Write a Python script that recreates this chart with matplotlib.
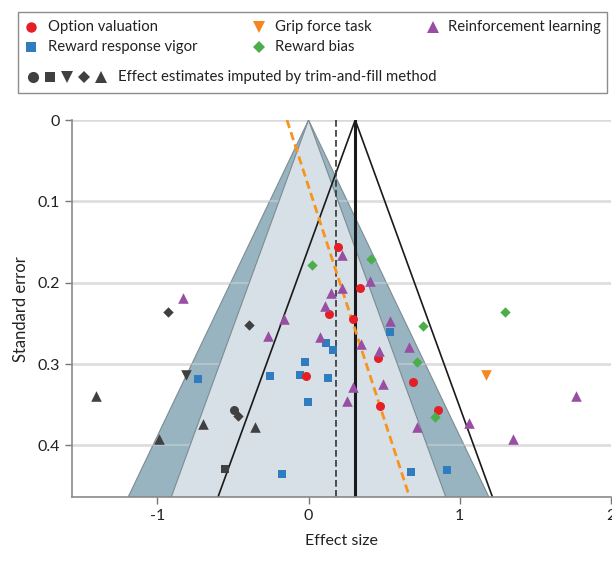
import matplotlib
matplotlib.use("Agg")
import matplotlib.pyplot as plt
from matplotlib.lines import Line2D
from matplotlib.patches import Rectangle, Polygon

plt.rcParams['font.family'] = ['Lato', 'DejaVu Sans']

# Effect sizes (x) and standard errors (y) per task category
option_es = [0.192, 0.133, -0.017, 0.338, 0.296, 0.462, 0.693, 0.470, 0.857]
option_se = [0.156, 0.239, 0.3145, 0.206, 0.244, 0.293, 0.3215, 0.351, 0.356]

vigor_es = [-0.732, -0.256, -0.055, -0.022, 0.117, 0.164, 0.128, -0.004,
            -0.174, 0.678, 0.916, 0.541]
vigor_se = [0.3186, 0.314, 0.313, 0.298, 0.274, 0.283, 0.3166, 0.346,
            0.4345, 0.433, 0.4296, 0.260]

grip_es = [1.175]
grip_se = [0.3133]

bias_es = [0.0245, 0.415, 0.760, 0.720, 0.835, 1.298]
bias_se = [0.178, 0.171, 0.2527, 0.298, 0.3645, 0.2363]

rl_es = [-0.828, -0.269, -0.163, 0.073, 0.111, 0.150, 0.223, 0.219, 0.407,
         0.536, 0.347, 0.464, 0.667, 0.294, 0.493, 0.254, 0.720, 1.064,
         1.773, 1.354]
rl_se = [0.219, 0.266, 0.244, 0.2666, 0.2285, 0.213, 0.207, 0.1655, 0.198,
         0.2465, 0.2756, 0.2834, 0.2793, 0.3276, 0.3243, 0.3448, 0.3768,
         0.3718, 0.3387, 0.3923]

# Studies imputed by trim-and-fill, by category marker
imp_option_es, imp_option_se = [-0.494], [0.356]
imp_vigor_es, imp_vigor_se = [-0.552], [0.429]
imp_grip_es, imp_grip_se = [-0.808], [0.313]
imp_bias_es, imp_bias_se = [-0.931, -0.393, -0.466], [0.236, 0.252, 0.364]
imp_rl_es, imp_rl_se = [-1.408, -0.699, -0.353, -0.989], [0.339, 0.373, 0.377, 0.392]

pooled_estimate = 0.309      # random-effects pooled effect
trimfill_estimate = 0.183    # trim-and-fill adjusted effect
egger_intercept = -0.143     # Egger regression line: es = a + b * se
egger_slope = 1.751
z95, z99 = 1.96, 2.576
se_max = 0.4637

x_ticks = [-1, 0, 1, 2]
x_ticklabels = ['-1', '0', '1', '2']
y_ticks = [0, 0.1, 0.2, 0.3, 0.4]
y_ticklabels = ['0', '0.1', '0.2', '0.3', '0.4']

C_OPT = '#e41f26'
C_VIG = '#2f7dbf'
C_GRIP = '#f7841f'
C_BIAS = '#4bae4a'
C_RL = '#984ea3'
C_IMP = '#404040'
TXT = '#222222'

fig = plt.figure(figsize=(6.12, 5.65), dpi=100)
ax = fig.add_axes([0.1172, 0.1198, 0.8808, 0.6678])

# Horizontal gridlines, softened where they cross the outer contour band
for yt in y_ticks:
    ax.axhline(yt, color='#d9d9d9', lw=1.8, zorder=0.5)

# Contour-enhanced funnel: p < .01 band and p < .05 region
outer = Polygon([(0, 0), (-z99 * se_max, se_max), (z99 * se_max, se_max)],
                closed=True, facecolor='#97b4c0', edgecolor='#7d8c93', lw=0.8, zorder=1)
ax.add_patch(outer)
for yt in y_ticks[1:]:
    ax.axhline(yt, color='#e6e6e6', lw=1.6, alpha=0.35, zorder=1.5)
inner = Polygon([(0, 0), (-z95 * se_max, se_max), (z95 * se_max, se_max)],
                closed=True, facecolor='#d7e0e7', edgecolor='#7d8c93', lw=0.8, zorder=2)
ax.add_patch(inner)

# Pseudo-confidence funnel around the pooled estimate
ax.plot([pooled_estimate - z95 * se_max, pooled_estimate, pooled_estimate + z95 * se_max],
        [se_max, 0, se_max], color='#1a1a1a', lw=1.2, zorder=3)
ax.plot([pooled_estimate, pooled_estimate], [0, se_max], color='#1a1a1a', lw=2.2, zorder=3)
ax.plot([trimfill_estimate, trimfill_estimate], [0, se_max], color='#333333', lw=1.2,
        dashes=(4, 2), zorder=3)

# Egger regression line
ax.plot([egger_intercept, egger_intercept + egger_slope * se_max], [0, se_max],
        color='#f7941d', lw=2.0, dashes=(3, 1.6), zorder=3)

# Study markers
ms = dict(linewidths=0, zorder=5, clip_on=False)
ax.scatter(imp_option_es, imp_option_se, marker='o', s=42, color=C_IMP, **ms)
ax.scatter(imp_vigor_es, imp_vigor_se, marker='s', s=38, color=C_IMP, **ms)
ax.scatter(imp_grip_es, imp_grip_se, marker='v', s=58, color=C_IMP, **ms)
ax.scatter(imp_bias_es, imp_bias_se, marker='D', s=28, color=C_IMP, **ms)
ax.scatter(imp_rl_es, imp_rl_se, marker='^', s=58, color=C_IMP, **ms)

ax.scatter(vigor_es, vigor_se, marker='s', s=38, color=C_VIG, **ms)
ax.scatter(option_es, option_se, marker='o', s=42, color=C_OPT, **ms)
ax.scatter(bias_es, bias_se, marker='D', s=28, color=C_BIAS, **ms)
ax.scatter(rl_es, rl_se, marker='^', s=58, color=C_RL, **ms)
ax.scatter(grip_es, grip_se, marker='v', s=58, color=C_GRIP, **ms)

ax.set_xlim(-1.567, 2.0)
ax.set_ylim(se_max, 0)
ax.set_xticks(x_ticks)
ax.set_xticklabels(x_ticklabels)
ax.set_yticks(y_ticks)
ax.set_yticklabels(y_ticklabels)
ax.tick_params(axis='both', colors='#777777', labelcolor=TXT, labelsize=11.5,
               length=5, width=1)
for side in ('top', 'right'):
    ax.spines[side].set_visible(False)
for side in ('left', 'bottom'):
    ax.spines[side].set_color('#8a8a8a')
    ax.spines[side].set_linewidth(1.2)
    ax.spines[side].set_zorder(6)

ax.set_xlabel('Effect size', fontsize=11.5, color=TXT, labelpad=8)
ax.set_ylabel('Standard error', fontsize=12, color=TXT, labelpad=6)

# Legend box
W, H = 612.0, 565.0
fig.add_artist(Rectangle((18 / W, 1 - 93 / H), 589 / W, 81 / H, transform=fig.transFigure,
                         facecolor='white', edgecolor='#8c8c8c', lw=1))


def legend_marker(px, py, marker, color, size):
    fig.add_artist(Line2D([px / W], [1 - py / H], marker=marker, color=color,
                          markersize=size, markeredgewidth=0, linestyle='none',
                          transform=fig.transFigure))


def legend_text(px, py, text):
    fig.text(px / W, 1 - py / H, text, fontsize=10.7, color=TXT,
             va='center', ha='left')


legend_marker(31, 27, 'o', C_OPT, 7.5)
legend_text(48, 27, 'Option valuation')
legend_marker(259, 27, 'v', C_GRIP, 9)
legend_text(275, 27, 'Grip force task')
legend_marker(433, 27, '^', C_RL, 9)
legend_text(448, 27, 'Reinforcement learning')
legend_marker(31, 47, 's', C_VIG, 7)
legend_text(48, 47, 'Reward response vigor')
legend_marker(259, 47, 'D', C_BIAS, 6.5)
legend_text(275, 47, 'Reward bias')

for px, mk, sz in [(33, 'o', 8), (50, 's', 7), (67, 'v', 9), (84, 'D', 6.5), (101, '^', 9)]:
    legend_marker(px, 77, mk, C_IMP, sz)
legend_text(118, 77, 'Effect estimates imputed by trim-and-fill method')

fig.savefig('out.png', dpi=100)
